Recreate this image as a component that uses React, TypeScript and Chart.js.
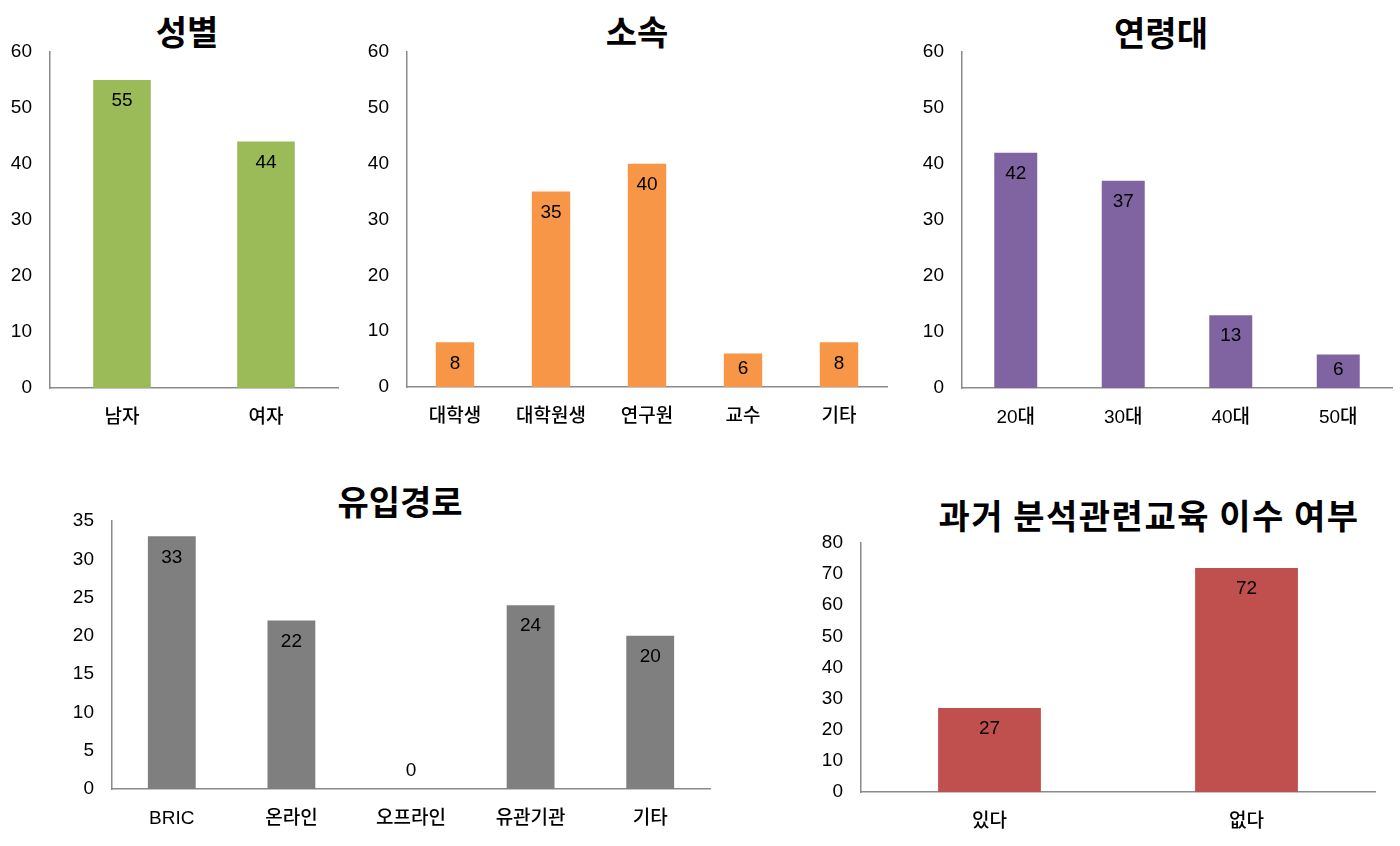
import React, { useEffect, useRef } from 'react';
import { Chart, registerables } from 'chart.js';

Chart.register(...registerables);

const FONT = "'Liberation Sans', Arial, 'Noto Sans CJK KR', sans-serif";
const TITLE_FONT = "'Noto Sans CJK KR', 'Liberation Sans', sans-serif";

// ---- data ----
const genderLabels = ['남자', '여자'];
const genderValues = [55, 44];

const affiliationLabels = ['대학생', '대학원생', '연구원', '교수', '기타'];
const affiliationValues = [8, 35, 40, 6, 8];

const ageLabels = ['20대', '30대', '40대', '50대'];
const ageValues = [42, 37, 13, 6];

const sourceLabels = ['BRIC', '온라인', '오프라인', '유관기관', '기타'];
const sourceValues = [33, 22, 0, 24, 20];

const eduLabels = ['있다', '없다'];
const eduValues = [27, 72];

const valueLabelPlugin = {
  id: 'valueLabels',
  afterDatasetsDraw(chart: any) {
    const ctx = chart.ctx;
    ctx.save();
    ctx.font = `19px ${FONT}`;
    ctx.fillStyle = '#000';
    ctx.textAlign = 'center';
    ctx.textBaseline = 'middle';
    chart.data.datasets.forEach((ds: any, di: number) => {
      const meta = chart.getDatasetMeta(di);
      meta.data.forEach((bar: any, i: number) => {
        const { x, y, base } = bar.getProps(['x', 'y', 'base'], true);
        const ty = Math.min(y + 21, base - 18);
        ctx.fillText(String(ds.data[i]), x, ty);
      });
    });
    ctx.restore();
  },
};

type Rect = { left: number; top: number; right: number; bottom: number };

const Y_AXIS_W = 60;
const X_AXIS_H = 50;
const PAD_TOP = 36;

function BarChart(props: {
  labels: string[];
  values: number[];
  color: string;
  max: number;
  step: number;
  plot: Rect;
  padRight: number;
}) {
  const ref = useRef<HTMLCanvasElement | null>(null);
  const { plot, padRight } = props;
  const canvasLeft = plot.left - Y_AXIS_W;
  const canvasTop = plot.top - PAD_TOP;
  const width = plot.right + padRight - canvasLeft;
  const height = plot.bottom + X_AXIS_H - canvasTop;

  useEffect(() => {
    if (!ref.current) return;
    const chart = new Chart(ref.current, {
      type: 'bar',
      data: {
        labels: props.labels,
        datasets: [
          {
            data: props.values,
            backgroundColor: props.color,
            borderWidth: 0,
            barPercentage: 0.4,
            categoryPercentage: 1,
          },
        ],
      },
      options: {
        animation: false,
        responsive: false,
        maintainAspectRatio: false,
        layout: { padding: { top: PAD_TOP, right: padRight, left: 0, bottom: 0 } },
        plugins: {
          legend: { display: false },
          tooltip: { enabled: false },
          title: { display: false },
        },
        scales: {
          x: {
            grid: { display: false, drawTicks: false },
            border: { display: true, color: '#8a8a8a', width: 1.5 },
            ticks: {
              color: '#000',
              font: { family: FONT, size: 19, weight: '500' },
              padding: 18,
              maxRotation: 0,
              autoSkip: false,
            },
            afterFit: (s: any) => {
              s.height = X_AXIS_H;
            },
          },
          y: {
            min: 0,
            max: props.max,
            grid: { display: false, drawTicks: false },
            border: { display: true, color: '#8a8a8a', width: 1.5 },
            ticks: {
              stepSize: props.step,
              color: '#000',
              font: { family: FONT, size: 19 },
              padding: 18,
            },
            afterFit: (s: any) => {
              s.width = Y_AXIS_W;
            },
          },
        },
      },
      plugins: [valueLabelPlugin],
    });
    return () => chart.destroy();
  }, []);

  return (
    <canvas
      ref={ref}
      width={width}
      height={height}
      style={{ position: 'absolute', left: canvasLeft, top: canvasTop, width, height }}
    />
  );
}

function Title(props: { text: string; x: number; y: number; spacing?: number }) {
  return (
    <div
      style={{
        position: 'absolute',
        left: props.x,
        top: props.y,
        transform: 'translate(-50%, -50%)',
        fontFamily: TITLE_FONT,
        fontWeight: 700,
        fontSize: 34,
        lineHeight: 1,
        letterSpacing: props.spacing ?? 0,
        whiteSpace: 'nowrap',
        color: '#000',
      }}
    >
      {props.text}
    </div>
  );
}

export default function App() {
  return (
    <div
      style={{
        position: 'absolute',
        left: 0,
        top: 0,
        width: 1400,
        height: 846,
        overflow: 'hidden',
        background: '#fff',
      }}
    >
      <Title text="성별" x={187} y={31} />
      <Title text="소속" x={637} y={31} />
      <Title text="연령대" x={1161} y={32} />
      <Title text="유입경로" x={400} y={501} />
      <Title text="과거 분석관련교육 이수 여부" x={1149} y={515} spacing={1.5} />

      <BarChart
        labels={genderLabels}
        values={genderValues}
        color="#9BBB59"
        max={60}
        step={10}
        plot={{ left: 50, top: 52, right: 338, bottom: 388 }}
        padRight={10}
      />
      <BarChart
        labels={affiliationLabels}
        values={affiliationValues}
        color="#F79646"
        max={60}
        step={10}
        plot={{ left: 407, top: 52, right: 887, bottom: 387 }}
        padRight={10}
      />
      <BarChart
        labels={ageLabels}
        values={ageValues}
        color="#8064A2"
        max={60}
        step={10}
        plot={{ left: 962, top: 52, right: 1392, bottom: 388 }}
        padRight={8}
      />
      <BarChart
        labels={sourceLabels}
        values={sourceValues}
        color="#7F7F7F"
        max={35}
        step={5}
        plot={{ left: 112, top: 521, right: 710, bottom: 789 }}
        padRight={10}
      />
      <BarChart
        labels={eduLabels}
        values={eduValues}
        color="#C0504D"
        max={80}
        step={10}
        plot={{ left: 861, top: 543, right: 1375, bottom: 792 }}
        padRight={10}
      />
    </div>
  );
}
